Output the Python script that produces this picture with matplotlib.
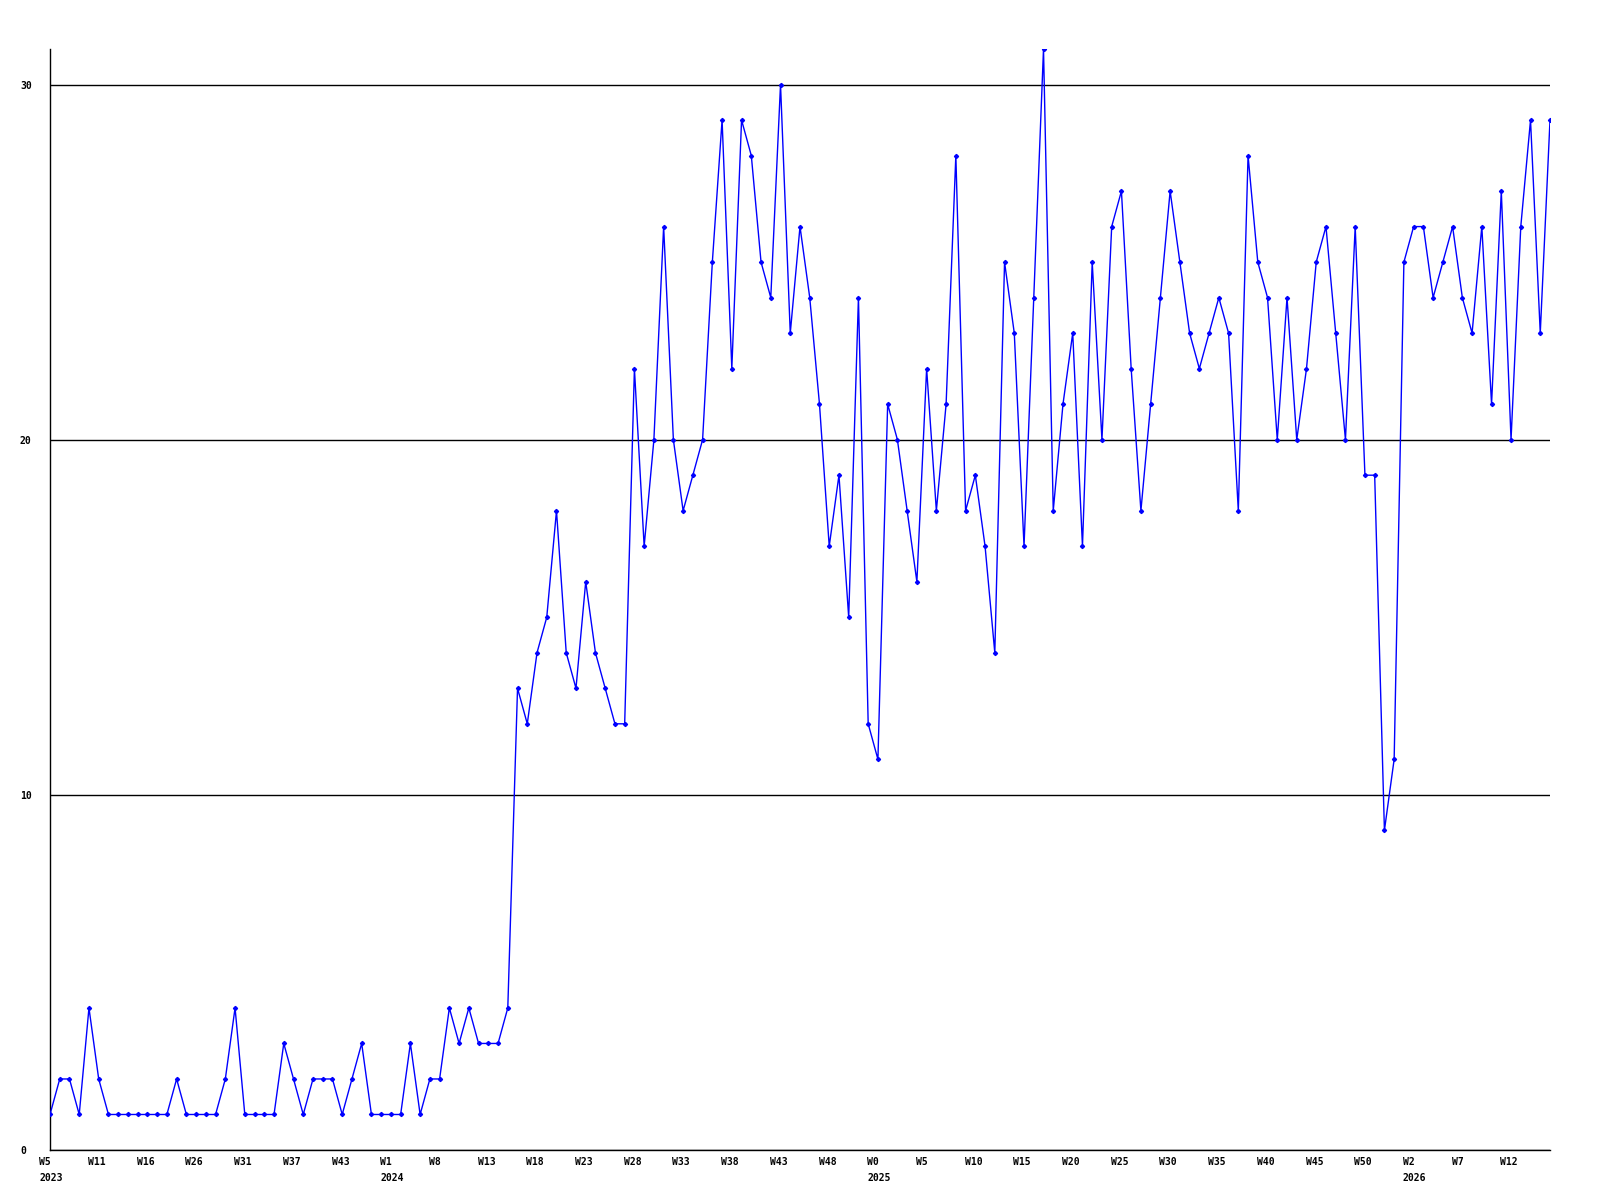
import matplotlib
matplotlib.use("Agg")
import matplotlib.pyplot as plt
from matplotlib.transforms import ScaledTranslation

# ---- data ----
values = [
    1, 2, 2, 1, 4, 2, 1, 1, 1, 1,
    1, 1, 1, 2, 1, 1, 1, 1, 2, 4,
    1, 1, 1, 1, 3, 2, 1, 2, 2, 2,
    1, 2, 3, 1, 1, 1, 1, 3, 1, 2,
    2, 4, 3, 4, 3, 3, 3, 4, 13, 12,
    14, 15, 18, 14, 13, 16, 14, 13, 12, 12,
    22, 17, 20, 26, 20, 18, 19, 20, 25, 29,
    22, 29, 28, 25, 24, 30, 23, 26, 24, 21,
    17, 19, 15, 24, 12, 11, 21, 20, 18, 16,
    22, 18, 21, 28, 18, 19, 17, 14, 25, 23,
    17, 24, 31, 18, 21, 23, 17, 25, 20, 26,
    27, 22, 18, 21, 24, 27, 25, 23, 22, 23,
    24, 23, 18, 28, 25, 24, 20, 24, 20, 22,
    25, 26, 23, 20, 26, 19, 19, 9, 11, 25,
    26, 26, 24, 25, 26, 24, 23, 26, 21, 27,
    20, 26, 29, 23, 29,
]
week_labels = ["W5", "W11", "W16", "W26", "W31", "W37", "W43", "W1", "W8", "W13",
               "W18", "W23", "W28", "W33", "W38", "W43", "W48", "W0", "W5", "W10",
               "W15", "W20", "W25", "W30", "W35", "W40", "W45", "W50", "W2", "W7", "W12"]
label_step = 5
year_labels = ["2023", "2024", "2025", "2026"]
year_label_index = [0, 7, 17, 28]   # index into week_labels
y_ticks = [0, 10, 20, 30]

# ---- figure ----
fig = plt.figure(figsize=(16, 12), dpi=100)
fig.patch.set_facecolor("white")
ax = fig.add_axes([50 / 1600, 50 / 1200, 1500 / 1600, 1101 / 1200])

x = list(range(len(values)))
ax.plot(x, values, color="#0000ff", lw=1.0, marker="D", markersize=2.1,
        markerfacecolor="#0000ff", markeredgecolor="#0000ff", zorder=3)

ax.set_xlim(0, len(values) - 1)
ax.set_ylim(0, 31)

for s in ["top", "right"]:
    ax.spines[s].set_visible(False)
for s in ["left", "bottom"]:
    ax.spines[s].set_color("black")
    ax.spines[s].set_linewidth(1)

ax.set_yticks(y_ticks)
ax.set_yticklabels([str(v) for v in y_ticks])
ax.yaxis.grid(True, color="black", lw=1)
ax.set_axisbelow(True)

font = dict(family="DejaVu Sans Mono", weight="bold", size=7)

ax.tick_params(axis="y", length=0, pad=21.6)
for lab in ax.get_yticklabels():
    lab.set_ha("left")
    lab.set_fontproperties(matplotlib.font_manager.FontProperties(**font))

xt = [i * label_step for i in range(len(week_labels))]
ax.set_xticks(xt)
ax.set_xticklabels(week_labels)
ax.tick_params(axis="x", length=0, pad=5)
shift = ScaledTranslation(-10.7 / 100, 0, fig.dpi_scale_trans)
for lab in ax.get_xticklabels():
    lab.set_ha("left")
    lab.set_fontproperties(matplotlib.font_manager.FontProperties(**font))
    lab.set_transform(lab.get_transform() + shift)

for yl, li in zip(year_labels, year_label_index):
    ax.annotate(yl, xy=(xt[li], 0), xycoords=("data", "axes fraction"),
                xytext=(-10.7, -28), textcoords="offset pixels",
                ha="left", va="center", **font)

fig.savefig("out.png", dpi=100, facecolor="white")
